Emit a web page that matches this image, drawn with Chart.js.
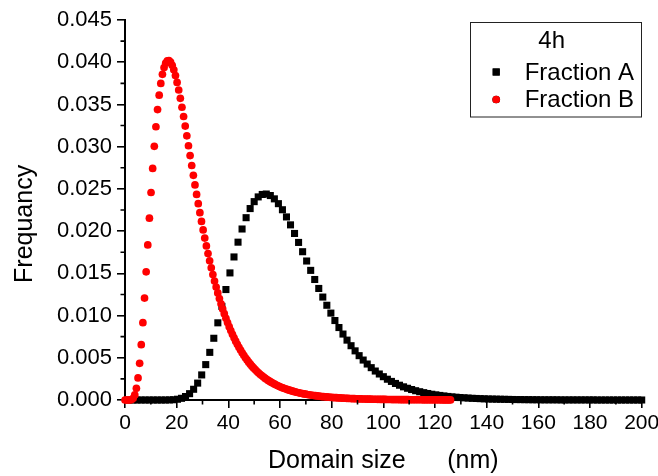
<!DOCTYPE html>
<html>
<head>
<meta charset="utf-8">
<script src="https://cdn.jsdelivr.net/npm/chart.js@4.4.1/dist/chart.umd.min.js"></script>
<style>
html,body{margin:0;padding:0;background:#fff;}
#wrap{width:658px;height:476px;}
</style>
</head>
<body>
<div id="wrap"><canvas id="c" width="658" height="476"></canvas></div>
<script>
// ---- data ----
const legendTitle = '4h';
const seriesNames = ['Fraction A', 'Fraction B'];

// Fraction A (black squares): domain size (nm)
const fractionA_x = [
1.5625,3.125,4.6875,6.25,7.8125,9.375,10.9375,12.5,
14.0625,15.625,17.1875,18.75,20.3125,21.875,23.4375,25,
26.5625,28.125,29.6875,31.25,32.8125,34.375,35.9375,37.5,
39.0625,40.625,42.1875,43.75,45.3125,46.875,48.4375,50,
51.5625,53.125,54.6875,56.25,57.8125,59.375,60.9375,62.5,
64.0625,65.625,67.1875,68.75,70.3125,71.875,73.4375,75,
76.5625,78.125,79.6875,81.25,82.8125,84.375,85.9375,87.5,
89.0625,90.625,92.1875,93.75,95.3125,96.875,98.4375,100,
101.5625,103.125,104.6875,106.25,107.8125,109.375,110.9375,112.5,
114.0625,115.625,117.1875,118.75,120.3125,121.875,123.4375,125,
126.5625,128.125,129.6875,131.25,132.8125,134.375,135.9375,137.5,
139.0625,140.625,142.1875,143.75,145.3125,146.875,148.4375,150,
151.5625,153.125,154.6875,156.25,157.8125,159.375,160.9375,162.5,
164.0625,165.625,167.1875,168.75,170.3125,171.875,173.4375,175,
176.5625,178.125,179.6875,181.25,182.8125,184.375,185.9375,187.5,
189.0625,190.625,192.1875,193.75,195.3125,196.875,198.4375,200];
// Fraction A frequency
const fractionA_y = [
0,0,0,0,0,0,0,0,0,0,0.00001,0.00003,0.00009,0.0002,0.00041,0.00075,
0.00127,0.002,0.00297,0.00419,0.00564,0.00731,0.00914,0.01109,0.01308,0.01505,0.01694,0.01869,0.02025,0.02159,0.02267,0.02349,
0.02405,0.02434,0.02439,0.02421,0.02382,0.02325,0.02253,0.02168,0.02074,0.01972,0.01866,0.01756,0.01646,0.01535,0.01427,0.01321,
0.01219,0.01122,0.01029,0.00941,0.00858,0.00781,0.00709,0.00643,0.00582,0.00525,0.00473,0.00426,0.00383,0.00343,0.00308,0.00276,
0.00246,0.0022,0.00196,0.00175,0.00156,0.00139,0.00124,0.0011,0.00098,0.00087,0.00077,0.00068,0.00061,0.00054,0.00048,0.00042,
0.00037,0.00033,0.00029,0.00026,0.00023,0.0002,0.00018,0.00016,0.00014,0.00012,0.00011,0.0001,0.00009,0.00008,0.00007,0.00006,
0.00005,0.00005,0.00004,0.00004,0.00003,0.00003,0.00002,0.00002,0.00002,0.00002,0.00002,0.00001,0.00001,0.00001,0.00001,0.00001,
0.00001,0.00001,0.00001,0.00001,0,0,0,0,0,0,0,0,0,0,0,0];

// Fraction B (red circles): domain size (nm)
const fractionB_x = [
0,0.63,1.26,1.89,2.52,3.15,3.78,4.41,5.04,5.67,6.3,6.93,7.56,8.19,8.82,9.45,
10.08,10.71,11.34,11.97,12.6,13.23,13.86,14.49,15.12,15.75,16.38,17.01,17.64,18.27,18.9,19.53,
20.16,20.79,21.42,22.05,22.68,23.31,23.94,24.57,25.2,25.83,26.46,27.09,27.72,28.35,28.98,29.61,
30.24,30.87,31.5,32.13,32.76,33.39,34.02,34.65,35.28,35.91,36.54,37.17,37.8,38.43,39.06,39.69,
40.32,40.95,41.58,42.21,42.84,43.47,44.1,44.73,45.36,45.99,46.62,47.25,47.88,48.51,49.14,49.77,
50.4,51.03,51.66,52.29,52.92,53.55,54.18,54.81,55.44,56.07,56.7,57.33,57.96,58.59,59.22,59.85,
60.48,61.11,61.74,62.37,63,63.63,64.26,64.89,65.52,66.15,66.78,67.41,68.04,68.67,69.3,69.93,
70.56,71.19,71.82,72.45,73.08,73.71,74.34,74.97,75.6,76.23,76.86,77.49,78.12,78.75,79.38,80.01,
80.64,81.27,81.9,82.53,83.16,83.79,84.42,85.05,85.68,86.31,86.94,87.57,88.2,88.83,89.46,90.09,
90.72,91.35,91.98,92.61,93.24,93.87,94.5,95.13,95.76,96.39,97.02,97.65,98.28,98.91,99.54,100.17,
100.8,101.43,102.06,102.69,103.32,103.95,104.58,105.21,105.84,106.47,107.1,107.73,108.36,108.99,109.62,110.25,
110.88,111.51,112.14,112.77,113.4,114.03,114.66,115.29,115.92,116.55,117.18,117.81,118.44,119.07,119.7,120.33,
120.96,121.59,122.22,122.85,123.48,124.11,124.74,125.37,126];
// Fraction B frequency
const fractionB_y = [
0,0,0,0,0.00005,0.0002,0.0006,0.00138,0.00261,0.00434,0.00655,0.00916,0.01207,0.01518,0.01837,0.02153,
0.02457,0.02742,0.03004,0.03236,0.03439,0.0361,0.03749,0.03857,0.03937,0.03989,0.04015,0.04019,0.04001,0.03964,0.0391,0.03842,
0.03761,0.03671,0.03572,0.03467,0.03357,0.03244,0.03128,0.03011,0.02894,0.02777,0.02661,0.02547,0.02434,0.02325,0.02218,0.02115,
0.02014,0.01917,0.01824,0.01734,0.01648,0.01565,0.01485,0.01409,0.01337,0.01268,0.01202,0.01139,0.01079,0.01022,0.00968,0.00917,
0.00868,0.00822,0.00778,0.00736,0.00697,0.00659,0.00624,0.00591,0.00559,0.00529,0.005,0.00474,0.00448,0.00424,0.00401,0.0038,
0.0036,0.0034,0.00322,0.00305,0.00289,0.00274,0.00259,0.00245,0.00232,0.0022,0.00208,0.00198,0.00187,0.00177,0.00168,0.00159,
0.00151,0.00143,0.00136,0.00129,0.00122,0.00116,0.0011,0.00104,0.00099,0.00094,0.00089,0.00085,0.0008,0.00076,0.00072,0.00069,
0.00065,0.00062,0.00059,0.00056,0.00053,0.00051,0.00048,0.00046,0.00044,0.00041,0.00039,0.00038,0.00036,0.00034,0.00032,0.00031,
0.00029,0.00028,0.00027,0.00025,0.00024,0.00023,0.00022,0.00021,0.0002,0.00019,0.00018,0.00017,0.00016,0.00016,0.00015,0.00014,
0.00014,0.00013,0.00012,0.00012,0.00011,0.00011,0.0001,0.0001,0.00009,0.00009,0.00009,0.00008,0.00008,0.00007,0.00007,0.00007,
0.00007,0.00006,0.00006,0.00006,0.00005,0.00005,0.00005,0.00005,0.00005,0.00004,0.00004,0.00004,0.00004,0.00004,0.00004,0.00003,
0.00003,0.00003,0.00003,0.00003,0.00003,0.00003,0.00003,0.00002,0.00002,0.00002,0.00002,0.00002,0.00002,0.00002,0.00002,0.00002,
0.00002,0.00002,0.00002,0.00001,0.00001,0.00001,0.00001,0.00001,0.00001];

// axis ticks
const xTickValues = [0,20,40,60,80,100,120,140,160,180,200];
const xTickLabels = ['0','20','40','60','80','100','120','140','160','180','200'];
const xMinorValues = [10,30,50,70,90,110,130,150,170,190];
const yTickValues = [0,0.005,0.01,0.015,0.02,0.025,0.03,0.035,0.04,0.045];
const yTickLabels = ['0.000','0.005','0.010','0.015','0.020','0.025','0.030','0.035','0.040','0.045'];
const yMinorValues = [0.0025,0.0075,0.0125,0.0175,0.0225,0.0275,0.0325,0.0375,0.0425];
const xTitle = 'Domain size\u00A0\u00A0\u00A0\u00A0\u00A0\u00A0(nm)';
const yTitle = 'Frequancy';

// ---- build chart ----
const FONT = "'Liberation Sans', Arial, sans-serif";
const AXIS = '#000';

function pts(xs, ys){ return xs.map((x,i)=>({x:x, y:ys[i]})); }

const minorTicks = {
  id:'minorTicks',
  afterDraw(chart){
    const ctx = chart.ctx, xs = chart.scales.x, ys = chart.scales.y;
    ctx.save();
    ctx.strokeStyle = AXIS; ctx.lineWidth = 1.6;
    ctx.beginPath();
    xMinorValues.forEach(v=>{ const p = xs.getPixelForValue(v); ctx.moveTo(p, ys.bottom); ctx.lineTo(p, ys.bottom+4.5); });
    yMinorValues.forEach(v=>{ const p = ys.getPixelForValue(v); ctx.moveTo(xs.left, p); ctx.lineTo(xs.left-4.5, p); });
    ctx.stroke();
    ctx.restore();
  }
};

const boxLegend = {
  id:'boxLegend',
  afterDraw(chart){
    const ctx = chart.ctx, a = chart.chartArea;
    const bx = a.right - 172, by = a.top + 1.5, bw = 171, bh = 94.5;
    ctx.save();
    ctx.fillStyle = '#fff';
    ctx.fillRect(bx, by, bw, bh);
    ctx.strokeStyle = '#222'; ctx.lineWidth = 1;
    ctx.strokeRect(Math.round(bx)+0.5, Math.round(by)+0.5, bw, bh);
    ctx.fillStyle = '#000';
    ctx.textBaseline = 'middle';
    ctx.textAlign = 'center';
    ctx.font = '24px ' + FONT;
    ctx.fillText(legendTitle, bx + 82, by + 19.5);
    ctx.textAlign = 'left';
    const rows = [by + 50.5, by + 78];
    // legend order: Fraction A, Fraction B
    [0,1].forEach((di,k)=>{
      const ds = chart.data.datasets[di];
      const y = rows[k];
      Chart.helpers.drawPoint(ctx, {pointStyle: ds.pointStyle, radius: ds.pointRadius, borderWidth: 0, rotation: 0}, bx + 26.5, y);
      ctx.fillStyle = ds.backgroundColor;
      ctx.fill();
      ctx.fillStyle = '#000';
      ctx.fillText(ds.label, bx + 55, y + 1);
    });
    ctx.restore();
  }
};

new Chart(document.getElementById('c'), {
  type: 'scatter',
  data: {
    datasets: [
      { label: seriesNames[0], data: pts(fractionA_x, fractionA_y), pointStyle: 'rect', pointRadius: 5, pointHoverRadius: 5,
        backgroundColor: '#000', borderWidth: 0, order: 2, clip: false },
      { label: seriesNames[1], data: pts(fractionB_x, fractionB_y), pointStyle: 'circle', pointRadius: 3.85, pointHoverRadius: 3.85,
        backgroundColor: '#ff0000', borderWidth: 0, order: 1, clip: false }
    ]
  },
  options: {
    responsive: false,
    devicePixelRatio: 1,
    animation: false,
    events: [],
    layout: { padding: { top: 20, right: 16.3, left: 0, bottom: 0 } },
    plugins: { legend: { display: false }, tooltip: { enabled: false } },
    scales: {
      x: {
        type: 'linear', min: 0, max: 200,
        afterBuildTicks: s => { s.ticks = xTickValues.map(v=>({value:v})); },
        afterFit: s => { s.height = 76; s.paddingRight = 0; s.paddingLeft = 0; },
        ticks: { autoSkip: false, maxRotation: 0, padding: 3, color: '#000',
                 font: { family: FONT, size: 21 },
                 callback: (v, i) => xTickLabels[i] },
        grid: { drawOnChartArea: false, drawTicks: true, tickLength: 8, color: AXIS, lineWidth: 1.6 },
        border: { display: true, color: AXIS, width: 2 },
        title: { display: true, text: xTitle, color: '#000', font: { family: FONT, size: 25 }, padding: { top: 0, bottom: 0 } }
      },
      y: {
        type: 'linear', min: 0, max: 0.045,
        afterBuildTicks: s => { s.ticks = yTickValues.map(v=>({value:v})); },
        afterFit: s => { s.width = 125; s.paddingTop = 0; s.paddingBottom = 0; },
        ticks: { autoSkip: false, padding: 5, color: '#000',
                 font: { family: FONT, size: 22 },
                 callback: (v, i) => yTickLabels[i] },
        grid: { drawOnChartArea: false, drawTicks: true, tickLength: 8, color: AXIS, lineWidth: 1.6 },
        border: { display: true, color: AXIS, width: 2 },
        title: { display: true, text: yTitle + '\u00A0\u00A0\u00A0\u00A0', color: '#000', font: { family: FONT, size: 25 }, padding: { top: 10, bottom: 0 } }
      }
    }
  },
  plugins: [minorTicks, boxLegend]
});
</script>
</body>
</html>
